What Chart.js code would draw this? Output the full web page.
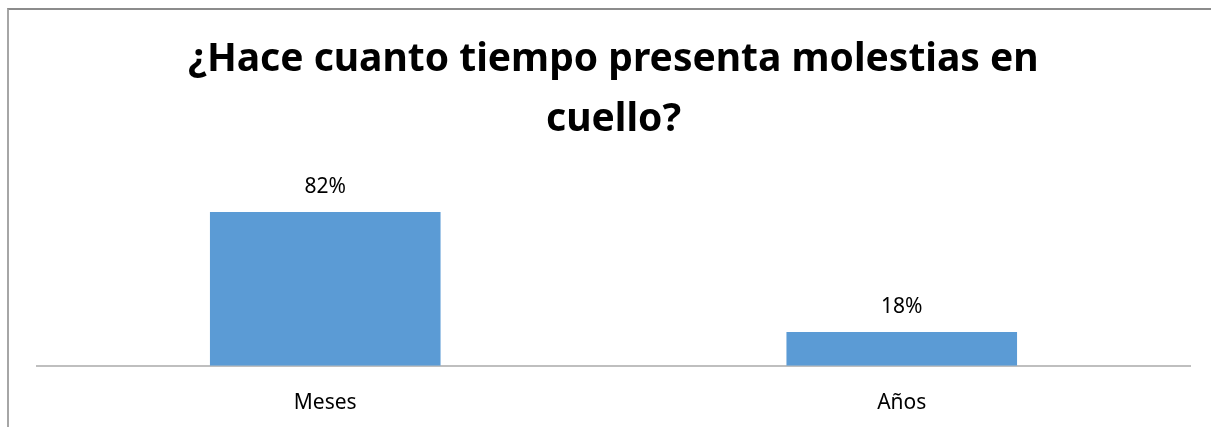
<!DOCTYPE html>
<html>
<head>
<meta charset="utf-8">
<script src="https://cdn.jsdelivr.net/npm/chart.js@4"></script>
<style>
  html, body { margin: 0; padding: 0; background: #fff; }
  #frame {
    position: absolute; left: 7px; top: 8px; right: -4px; bottom: -4px;
    border-top: 2px solid #8c8c8c; border-left: 2px solid #a6a6a6;
  }
  #box { position: absolute; left: 0; top: 0; width: 1211px; height: 427px; }
</style>
</head>
<body>
<div id="frame"></div>
<div id="box"><canvas id="chart" width="1211" height="427"></canvas></div>
<script>
// data
var categories = ['Meses', 'Años'];
var percents = [82, 18];
var titleLines = ['¿Hace cuanto tiempo presenta molestias en', 'cuello?'];

// value labels above each bar
var valueLabels = {
  id: 'valueLabels',
  afterDatasetsDraw: function (chart) {
    var ctx = chart.ctx;
    var meta = chart.getDatasetMeta(0);
    ctx.save();
    ctx.font = '21px "Noto Sans", sans-serif';
    ctx.fillStyle = '#000';
    ctx.textAlign = 'center';
    ctx.textBaseline = 'middle';
    meta.data.forEach(function (bar, i) {
      ctx.fillText(percents[i] + '%', bar.x, bar.y - 25);
    });
    ctx.restore();
  }
};

var ctx = document.getElementById('chart').getContext('2d');
var chart = new Chart(ctx, {
  type: 'bar',
  data: {
    labels: categories,
    datasets: [{
      data: percents,
      backgroundColor: '#5b9bd5',
      borderWidth: 0,
      categoryPercentage: 1,
      barPercentage: 0.4
    }]
  },
  options: {
    responsive: false,
    animation: false,
    layout: { padding: { left: 37, right: 21, top: 8, bottom: -6 } },
    plugins: {
      legend: { display: false },
      tooltip: { enabled: false },
      title: {
        display: true,
        text: titleLines,
        color: '#000',
        font: { family: '"Noto Sans", sans-serif', size: 39, weight: 'bold', lineHeight: '60px' },
        padding: { top: 22, bottom: 47 }
      }
    },
    scales: {
      x: {
        grid: { display: false },
        border: { color: '#bfbfbf', width: 2 },
        ticks: { color: '#000', padding: 17, font: { family: '"Noto Sans", sans-serif', size: 21 } }
      },
      y: {
        display: false,
        min: 0,
        max: 90
      }
    }
  },
  plugins: [valueLabels]
});
</script>
</body>
</html>
